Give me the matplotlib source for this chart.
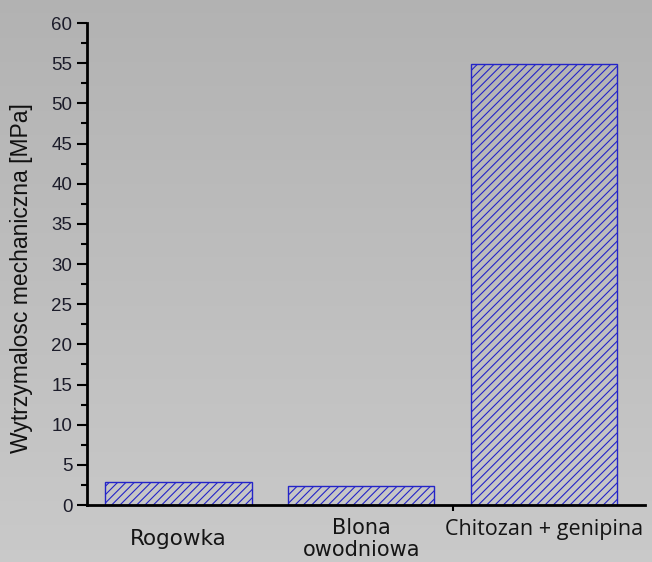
import matplotlib

matplotlib.use("Agg")
import matplotlib.pyplot as plt
import numpy as np

categories = ["Rogowka", "Blona\nowodniowa", "Chitozan + genipina"]
strength_mpa = [2.9, 2.4, 54.9]
y_ticks = list(range(0, 61, 5))

plt.rcParams["hatch.color"] = "#3a3acb"
plt.rcParams["hatch.linewidth"] = 0.8

fig = plt.figure(figsize=(6.52, 5.62), dpi=100)

# grey gradient background, darker at the top
bg = fig.add_axes([0, 0, 1, 1], zorder=-10)
shade = np.linspace(0.70, 0.79, 256).reshape(-1, 1, 1)
bg.imshow(np.repeat(shade, 3, axis=2), aspect="auto", extent=[0, 1, 0, 1])
bg.axis("off")

ax = fig.add_axes([0.1334, 0.1014, 0.8556, 0.8576])
ax.patch.set_alpha(0)
x = np.arange(len(categories))
ax.bar(x, strength_mpa, width=0.8, facecolor="none", edgecolor="#2424c8",
       hatch="////", linewidth=1.0)

ax.set_xlim(-0.5, 2.55)
ax.set_ylim(0, 60)
ax.set_yticks(y_ticks)
ax.set_yticks(np.arange(2.5, 60, 5), minor=True)
ax.tick_params(axis="y", which="major", length=7.5, width=1.5, direction="out",
               labelsize=13.5, labelcolor="#1c1c2a", pad=3)
ax.tick_params(axis="y", which="minor", length=4, width=1.5, direction="out")
for lab in ax.get_yticklabels():
    lab.set_fontfamily("Liberation Sans")
ax.set_xticks([1.5])
ax.set_xticklabels([""])
ax.tick_params(axis="x", length=4, width=1.5, direction="out")

for side in ("top", "right"):
    ax.spines[side].set_visible(False)
ax.spines["left"].set_linewidth(2)
ax.spines["bottom"].set_linewidth(2)

ax.set_ylabel("Wytrzymalosc mechaniczna [MPa]", fontsize=16.5,
              family="Liberation Sans", color="#111111")
ax.yaxis.set_label_coords(-0.097, 0.471)

tr = ax.get_xaxis_transform()
ax.text(x[0], -0.07, categories[0], transform=tr, ha="center", va="center",
        fontsize=15.5, color="#151515")
ax.text(x[1], -0.071, categories[1], transform=tr, ha="center", va="center",
        fontsize=15, color="#151515", linespacing=1.12)
ax.text(x[2], -0.05, categories[2], transform=tr, ha="center", va="center",
        fontsize=15.5, family="Open Sans", color="#151515")

fig.savefig("out.png", dpi=100)
